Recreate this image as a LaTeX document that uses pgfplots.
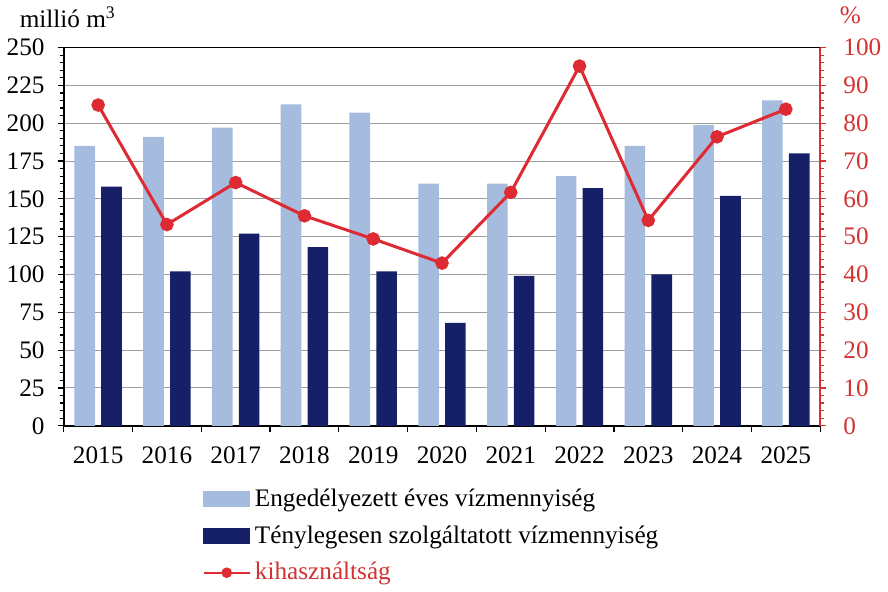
\documentclass[border=0pt]{standalone}
\usepackage{fontspec}
\setmainfont{Liberation Serif}
\usepackage{pgfplots}
\pgfplotsset{compat=1.18}
\usepackage{pgfplotstable}

\definecolor{lightbar}{RGB}{166,188,222}
\definecolor{darkbar}{RGB}{22,32,104}
\definecolor{linered}{RGB}{222,42,50}
\definecolor{axisred}{RGB}{210,50,50}

\pgfplotsset{
  longline legend/.style={
    legend image code/.code={\draw[mark repeat=2,mark phase=2,##1,line width=1.2pt,mark size=2pt] plot coordinates {(0cm,0cm) (0.4cm,0cm) (0.8cm,0cm)};}},
  barbox legend/.style={
    legend image code/.code={\fill[#1] (0cm,-0.13cm) rectangle (0.8cm,0.13cm);}},
}

% x = year index (0 = 2015), bars in million m3, pct = utilisation %
\pgfplotstableread{
x light dark pct
0 185 158 84.8
1 191 102 53.2
2 197 127 64.3
3 212.5 118 55.5
4 207 102 49.4
5 160 68 43.0
6 160 99 61.7
7 165 157 95.1
8 185 100 54.3
9 198.7 152 76.4
10 215 180 83.7
}\datatable

\begin{document}
\begin{tikzpicture}[font=\fontsize{12.5}{14.5}\selectfont]
\pgfplotsset{
  every axis/.append style={
    scale only axis, width=375pt, height=187.5pt,
    xmin=-0.5, xmax=10.5,
    /pgf/number format/assume math mode=true,
    tick align=outside,
    major tick length=3pt, minor tick length=2pt,
  },
}
\begin{axis}[
  name=main,
  axis x line*=bottom, axis y line*=left,
  axis line style={line width=1pt},
  ymin=0, ymax=250, ytick={0,25,...,250}, minor y tick num=4,
  yticklabel style={xshift=-3pt},
  ymajorgrids, grid style={gray!75, line width=0.5pt},
  xtick={-0.5,0.5,...,10.5}, xticklabels={},
  extra x ticks={0,...,10},
  extra x tick labels={2015,2016,2017,2018,2019,2020,2021,2022,2023,2024,2025},
  extra x tick style={tick style={draw=none}, tick label style={yshift=-4pt}},
  tick style={black, line width=0.6pt},
]
\addplot[ybar, bar width=0.3, bar shift=-0.195, fill=lightbar, draw=none] table[x=x,y=light]{\datatable};
\addplot[ybar, bar width=0.3, bar shift=0.195, fill=darkbar, draw=none] table[x=x,y=dark]{\datatable};
\end{axis}

\begin{axis}[
  axis x line*=top, axis y line*=right, xtick=\empty,
  x axis line style={black, line width=0.8pt},
  y axis line style={axisred, line width=1pt},
  ymin=0, ymax=100, ytick={0,10,...,100}, minor y tick num=4,
  y tick style={axisred, line width=0.6pt},
  yticklabel style={text=axisred, xshift=5pt},
  legend style={draw=none, fill=none, at={(axis description cs:0.175,-0.145)},
    anchor=north west, row sep=4pt},
  legend cell align=left,
]
\addlegendimage{barbox legend=lightbar}
\addlegendentry{Engedélyezett éves vízmennyiség}
\addlegendimage{barbox legend=darkbar}
\addlegendentry{Ténylegesen szolgáltatott vízmennyiség}
\addplot[linered, line width=1.5pt, mark=*, mark size=2.6pt, longline legend]
  table[x=x,y=pct]{\datatable};
\addlegendentry{\textcolor{axisred}{kihasználtság}}
\end{axis}
\node[xshift=2pt, yshift=15pt] at (main.north west) {millió m\textsuperscript{3}};
\node[text=axisred, xshift=15pt, yshift=16pt] at (main.north east) {\%};
\end{tikzpicture}
\end{document}
